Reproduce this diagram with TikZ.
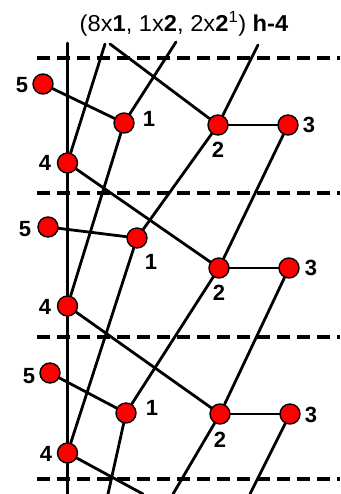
\documentclass[tikz,border=0pt]{standalone}
\usepackage{fontspec}
\usepackage{graphicx}
\setmainfont{Liberation Sans}
\usetikzlibrary{backgrounds}
\begin{document}
\begin{tikzpicture}[x=1pt,y=-1pt,
  atom/.style={circle,fill=red,draw=black,line width=1.4pt,minimum size=20pt,inner sep=0pt},
  lab/.style={font=\fontsize{22}{22}\selectfont\bfseries,inner sep=0pt},
  bond/.style={line width=2.8pt,line cap=round},
  cell/.style={line width=3.6pt,dash pattern=on 13pt off 7pt}]
\useasboundingbox (0,0) rectangle (340,494);
% title
\node[font=\fontsize{23}{23}\selectfont,inner sep=0pt] (title) at (184,24) {\scalebox{1.03}[1]{(8x\textbf{1}, 1x\textbf{2}, 2x\textbf{2}\textsuperscript{1}) \textbf{h-4}}};
% atoms period a
\node[atom] (a5) at (43,84) {};
\node[atom] (a1) at (124,123) {};
\node[atom] (a2) at (218,125) {};
\node[atom] (a3) at (288,125) {};
\node[atom] (a4) at (67.5,163) {};
% period b
\node[atom] (b5) at (48,227) {};
\node[atom] (b1) at (137,238) {};
\node[atom] (b2) at (219,268) {};
\node[atom] (b3) at (289,268) {};
\node[atom] (b4) at (67.5,306) {};
% period c
\node[atom] (c5) at (50,373) {};
\node[atom] (c1) at (126,413) {};
\node[atom] (c2) at (220,414) {};
\node[atom] (c3) at (290,414) {};
\node[atom] (c4) at (67.5,453) {};
% labels
\node[lab] (la5) at (22,85) {5};
\node[lab] (la1) at (149,119) {1};
\node[lab] (la2) at (218,150) {2};
\node[lab] (la3) at (309,125) {3};
\node[lab] (la4) at (45,163) {4};
\node[lab] (lb5) at (25,229) {5};
\node[lab] (lb1) at (151,262) {1};
\node[lab] (lb2) at (219,293) {2};
\node[lab] (lb3) at (311,268) {3};
\node[lab] (lb4) at (45,307) {4};
\node[lab] (lc5) at (29,376) {5};
\node[lab] (lc1) at (152,408) {1};
\node[lab] (lc2) at (220,440) {2};
\node[lab] (lc3) at (311,415) {3};
\node[lab] (lc4) at (46,454) {4};
% free ends
\coordinate (tv) at (67.5,43);
\coordinate (bv) at (67.5,494);
\coordinate (tA) at (105,44);
\coordinate (tB) at (110,44);
\coordinate (tC) at (176,42);
\coordinate (tD) at (258,45);
\coordinate (bA) at (108,494);
\coordinate (bB) at (143,494);
\coordinate (bC) at (173,494);
\coordinate (bD) at (250,494);
\coordinate (d1l) at (37,58);  \coordinate (d1r) at (340,58);
\coordinate (d2l) at (37,193); \coordinate (d2r) at (340,193);
\coordinate (d3l) at (37,337); \coordinate (d3r) at (340,337);
\coordinate (d4l) at (37,479); \coordinate (d4r) at (340,479);
\begin{scope}[on background layer]
\draw[cell] (d1l) -- (d1r);
\draw[cell] (d2l) -- (d2r);
\draw[cell] (d3l) -- (d3r);
\draw[cell] (d4l) -- (d4r);
\draw[bond] (tv) -- (a4) -- (b4) -- (c4) -- (bv);
\draw[bond] (a5) -- (a1);
\draw[bond] (b5) -- (b1);
\draw[bond] (c5) -- (c1);
\draw[bond] (a2) -- (a3);
\draw[bond] (b2) -- (b3);
\draw[bond] (c2) -- (c3);
\draw[bond] (a4) -- (tA);
\draw[bond] (tB) -- (a2);
\draw[bond] (a1) -- (tC);
\draw[bond] (a2) -- (tD);
\draw[bond] (a1) -- (b4);
\draw[bond] (b1) -- (c4);
\draw[bond] (c1) -- (bA);
\draw[bond] (a4) -- (b2);
\draw[bond] (b4) -- (c2);
\draw[bond] (c4) -- (bB);
\draw[bond] (a2) -- (b1);
\draw[bond] (b2) -- (c1);
\draw[bond] (c2) -- (bC);
\draw[bond] (a3) -- (b2);
\draw[bond] (b3) -- (c2);
\draw[bond] (c3) -- (bD);
\end{scope}
\end{tikzpicture}
\end{document}
